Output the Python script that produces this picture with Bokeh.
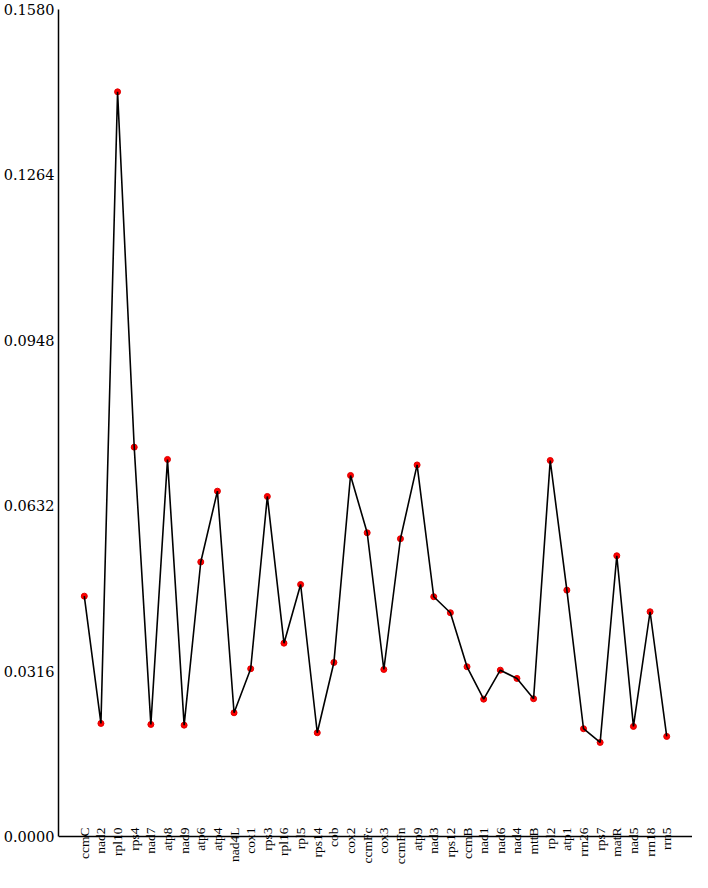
import math
from bokeh.plotting import figure
from bokeh.models import (FactorRange, Range1d, FixedTicker, NumeralTickFormatter,
                          ColumnDataSource, Span)
from bokeh.embed import file_html
from bokeh.resources import INLINE

genes = ["ccmC", "nad2", "rpl10", "rps4", "nad7", "atp8", "nad9", "atp6", "atp4", "nad4L",
         "cox1", "rps3", "rpl16", "rpl5", "rps14", "cob", "cox2", "ccmFc", "cox3", "ccmFn",
         "atp9", "nad3", "rps12", "ccmB", "nad1", "nad6", "nad4", "mttB", "rpl2", "atp1",
         "rrn26", "rps7", "matR", "nad5", "rrn18", "rrn5"]
values = [0.04591, 0.02159, 0.14227, 0.07438, 0.02140, 0.07203, 0.02126, 0.05244, 0.06597, 0.02363,
          0.03204, 0.06496, 0.03693, 0.04814, 0.01981, 0.03324, 0.06897, 0.05802, 0.03190, 0.05688,
          0.07098, 0.04580, 0.04274, 0.03242, 0.02623, 0.03177, 0.03019, 0.02631, 0.07183, 0.04706,
          0.02058, 0.01796, 0.05363, 0.02102, 0.04293, 0.01911]
y_ticks = [0.0, 0.0316, 0.0632, 0.0948, 0.1264, 0.1580]

src = ColumnDataSource(dict(gene=genes, val=values, base=[0.0] * len(genes)))

# the frame reaches below zero so that the category names fit under the x axis
p = figure(width=692, height=882, output_backend="svg", toolbar_location=None,
           x_range=FactorRange(factors=genes, range_padding=1.05, range_padding_units="absolute"),
           y_range=Range1d(-0.0088, 0.158),
           min_border_left=40, min_border_right=0, min_border_top=9, min_border_bottom=0)
p.outline_line_color = None
p.xgrid.visible = False
p.ygrid.visible = False
p.xaxis.visible = False
p.background_fill_color = "white"

# x axis line at zero
p.add_layout(Span(location=0, dimension="width", line_color="black", line_width=1.5))

p.scatter("gene", "val", source=src, size=6, fill_color="#ff0000", line_color="#e00000")
p.line("gene", "val", source=src, line_color="black", line_width=1.6)

font = "DejaVu Serif"
ax = p.yaxis[0]
ax.bounds = (0, 0.158)
ax.axis_line_color = "black"
ax.axis_line_width = 1.5
ax.major_tick_line_color = None
ax.minor_tick_line_color = None
ax.major_tick_out = 0
ax.major_tick_in = 0
ax.minor_tick_out = 0
ax.major_label_text_font = font
ax.major_label_text_color = "black"
ax.major_label_text_font_size = "14.5px"
ax.ticker = FixedTicker(ticks=y_ticks)
ax.formatter = NumeralTickFormatter(format="0.0000")
ax.major_label_standoff = 4

# category names below the x axis, reading upward
p.text(x="gene", y="base", text="gene", source=src, angle=math.pi / 2, y_offset=-9,
       text_align="right", text_baseline="middle",
       text_font=font, text_font_size="13.5px", text_color="black")

open("out.html", "w").write(file_html(p, INLINE))
